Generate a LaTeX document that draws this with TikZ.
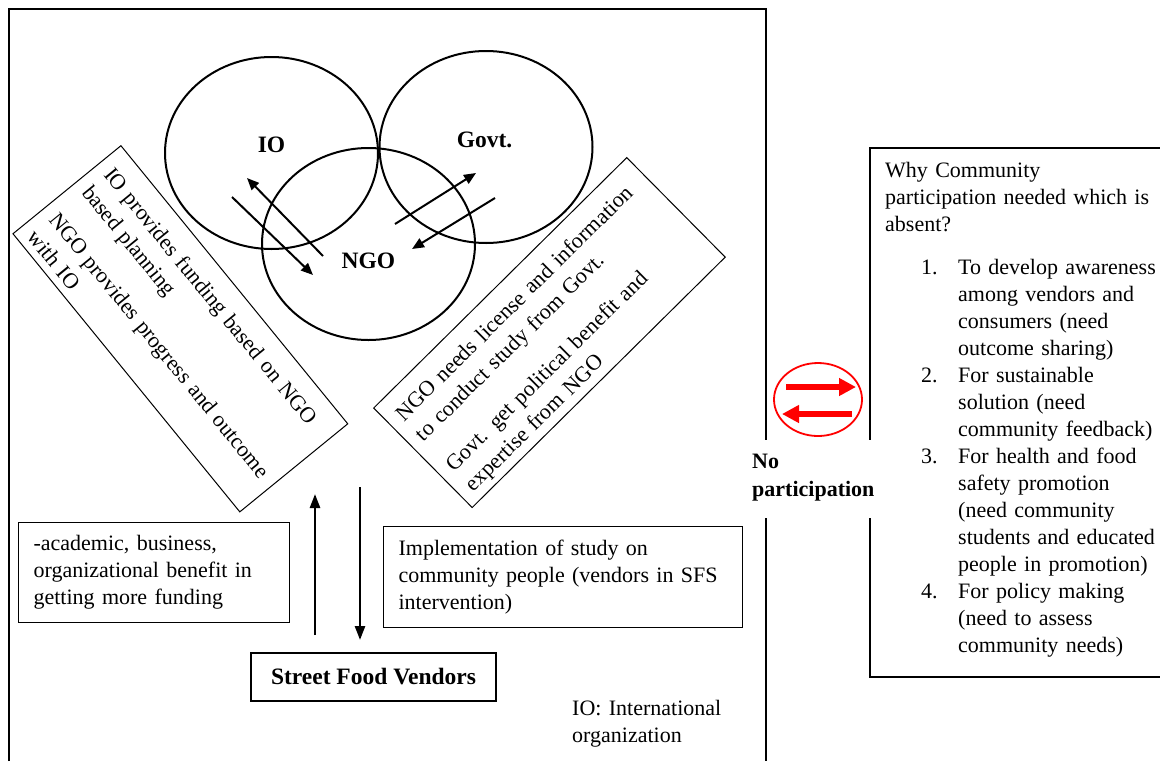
\documentclass[tikz,border=0pt]{standalone}
\usepackage{fontspec}
\setmainfont{Liberation Serif}
\usetikzlibrary{arrows.meta,shapes.geometric}
\begin{document}
\begin{tikzpicture}[x=1pt,y=-1pt,
  outline/.style={line width=2.2pt},
  thinbox/.style={draw, line width=1pt, inner sep=0pt},
  circ/.style={draw, ellipse, line width=2pt, minimum width=213pt, minimum height=192pt, inner sep=0pt},
  lbl/.style={font=\fontsize{23.5}{28}\selectfont\bfseries, inner sep=0pt},
  txt/.style={font=\fontsize{22}{27}\selectfont, inner sep=0pt, align=left},
  rtxt/.style={font=\fontsize{22}{28}\selectfont, inner sep=0pt, align=left},
  plainbox/.style={draw, line width=1.2pt, font=\fontsize{22}{27}\selectfont, inner ysep=0pt, inner xsep=15pt, align=left},
  flow/.style={line width=2pt, -{Triangle[length=12pt,width=10pt]}},
  vflow/.style={line width=2.5pt, -{Triangle[length=14pt,width=10pt]}},
  redflow/.style={draw=red, line width=5.5pt, -{Triangle[length=17pt,width=17pt]}},
]
\useasboundingbox (0,0) rectangle (1160,761);

% outer frame (open at the bottom, gap at "No participation")
\draw[outline] (9,761) -- (9,9) -- (766,9) -- (766,440);
\draw[outline] (766,518) -- (766,761);
% right box
\draw[outline] (1160,148) -- (870,148) -- (870,440);
\draw[outline] (870,518) -- (870,677) -- (1160,677);

% circles
\node[circ] (io) at (271.5,153) {};
\node[circ] (govt) at (486,147) {};
\node[circ] (ngo) at (368.5,244) {};
\node[lbl, anchor=base] (iol) at (271.5,152) {IO};
\node[lbl, anchor=base] (govtl) at (484.5,147) {Govt.};
\node[lbl, anchor=base] (ngol) at (368.5,268) {NGO};

% arrows between circles
\coordinate (a1s) at (323,256); \coordinate (a1e) at (247,178);
\coordinate (a2s) at (232,197); \coordinate (a2e) at (313,275);
\coordinate (a3s) at (395,224); \coordinate (a3e) at (476,173);
\coordinate (a4s) at (495,198); \coordinate (a4e) at (412,249);
\draw[flow] (a1s) -- (a1e);
\draw[flow] (a2s) -- (a2e);
\draw[flow] (a3s) -- (a3e);
\draw[flow] (a4s) -- (a4e);

% left rotated box
\begin{scope}[shift={(121,145)}, rotate=-50.8, transform shape]
  \node[thinbox, anchor=north west, minimum width=358.9pt, minimum height=139.3pt] (lbox) at (0,0) {};
  \node[rtxt, anchor=base west, text width=336pt] (ltext) at (12,33)
    {IO provides funding based on NGO\\based planning\\[15pt]NGO provides progress and outcome\\with IO};
\end{scope}

% right rotated box
\begin{scope}[shift={(373,408)}, rotate=44.7, transform shape]
  \node[thinbox, anchor=north west, minimum width=356pt, minimum height=140pt] (rbox) at (0,0) {};
  \node[rtxt, anchor=base west, text width=336pt] (rtext) at (12,32)
    {NGO needs license and information\\to conduct study from Govt.\\[15pt]Govt. get political benefit and\\expertise from NGO};
\end{scope}

% bottom boxes
\node[plainbox, anchor=north west, text width=241pt, minimum height=100pt] (benefit) at (18,522)
  {-academic, business,\\organizational benefit in\\getting more funding};
\node[plainbox, anchor=north west, text width=329pt, minimum height=101pt] (impl) at (383,526)
  {Implementation of study on\\community people (vendors in SFS\\intervention)};
\node[draw, line width=1.2pt, lbl, minimum width=245pt, minimum height=48pt] (sfv) at (373.5,677) {Street Food Vendors};

% vertical arrows
\coordinate (u1) at (315,635); \coordinate (u2) at (315,494);
\coordinate (d1) at (360,487); \coordinate (d2) at (360,640);
\draw[vflow] (u1) -- (u2);
\draw[vflow] (d1) -- (d2);

\node[txt, anchor=base west, text width=170pt] (ionote) at (572,715) {IO: International\\organization};

% red exchange symbol
\node[draw=red, ellipse, line width=1.8pt, minimum width=88pt, minimum height=73pt, inner sep=0pt] (swap) at (818,399.5) {};
\coordinate (r1s) at (786,387); \coordinate (r1e) at (856,387);
\coordinate (r2s) at (852,414); \coordinate (r2e) at (782,414);
\draw[redflow] (r1s) -- (r1e);
\draw[redflow] (r2s) -- (r2e);

\node[font=\fontsize{22}{28}\selectfont\bfseries, inner sep=0pt, align=left, anchor=base west, text width=130pt] (nopart) at (752,468) {No\\participation};

% right box text
\node[txt, anchor=base west, text width=285pt] (why) at (885,177)
  {Why Community\\participation needed which is\\absent?\\[16pt]
   \hspace*{36pt}\makebox[37pt][l]{1.}To develop awareness\\
   \hspace*{73pt}among vendors and\\
   \hspace*{73pt}consumers (need\\
   \hspace*{73pt}outcome sharing)\\
   \hspace*{36pt}\makebox[37pt][l]{2.}For sustainable\\
   \hspace*{73pt}solution (need\\
   \hspace*{73pt}community feedback)\\
   \hspace*{36pt}\makebox[37pt][l]{3.}For health and food\\
   \hspace*{73pt}safety promotion\\
   \hspace*{73pt}(need community\\
   \hspace*{73pt}students and educated\\
   \hspace*{73pt}people in promotion)\\
   \hspace*{36pt}\makebox[37pt][l]{4.}For policy making\\
   \hspace*{73pt}(need to assess\\
   \hspace*{73pt}community needs)};
\end{tikzpicture}
\end{document}
